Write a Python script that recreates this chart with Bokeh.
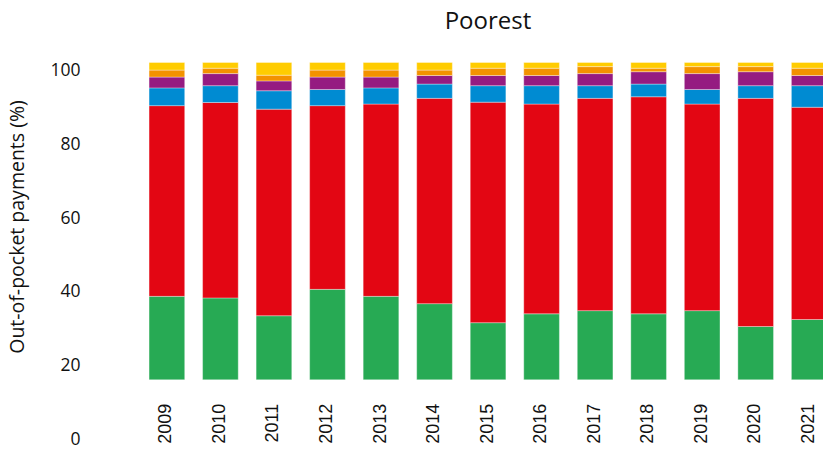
from bokeh.plotting import figure
from bokeh.models import LinearAxis, Range1d, FixedTicker, ColumnDataSource
from bokeh.core.properties import value
from bokeh.embed import file_html
from bokeh.resources import INLINE
import math

# ---- data ----
years = [2009, 2010, 2011, 2012, 2013, 2014, 2015, 2016, 2017, 2018, 2019, 2020, 2021]
year_labels = [str(y) for y in years]
seg_green  = [26.3, 25.8, 20.2, 28.5, 26.3, 24.0, 18.0, 20.8, 21.8, 20.8, 21.8, 16.8, 19.0]
seg_red    = [60.1, 61.6, 65.1, 57.9, 60.6, 64.7, 69.5, 66.1, 66.9, 68.4, 65.1, 71.9, 66.9]
seg_blue   = [5.6, 5.3, 5.8, 5.1, 5.1, 4.5, 5.2, 5.8, 4.0, 4.0, 4.6, 4.0, 6.8]
seg_purple = [3.4, 3.8, 3.1, 3.9, 3.4, 2.7, 3.2, 3.2, 3.8, 3.9, 5.0, 4.4, 3.2]
seg_orange = [2.2, 1.7, 1.8, 2.2, 2.2, 1.7, 2.3, 2.3, 2.2, 1.1, 2.2, 1.6, 2.3]
seg_yellow = [2.4, 1.8, 4.0, 2.4, 2.4, 2.4, 1.8, 1.8, 1.3, 1.8, 1.3, 1.3, 1.8]
y_ticks = [0, 20, 40, 60, 80, 100]
y_title = "Out-of-pocket payments (%)"
chart_title = "Poorest"

series = ["green", "red", "blue", "purple", "orange", "yellow"]
colors = ["#27AA54", "#E30613", "#008BD2", "#951B81", "#F39200", "#FFCC00"]

# ---- geometry (page pixels; the page template has no body margin) ----
W, H = 823, 453
FL, FT, FR, FB = 86.0, 0.0, 823.0, 453.0       # frame edges (page px)
bar0_px, bar100_px = 379.3, 62.0                # bar stack 0 and 100
lab0_px, lab100_px = 438.3, 68.7                # tick labels 0 and 100
first_c, step = 165.5, 53.6                     # first bar centre, spacing
bar_w_px = 35.7
year_top_px = 403.3
title_cx_px, title_base_px = 487.0, 18.8        # chart title centre / anchor

ppu_bar = (bar0_px - bar100_px) / 100.0
ppu_lab = (lab0_px - lab100_px) / 100.0

x_start = years[0] - (first_c - FL) / step
x_end = years[-1] + (FR - (first_c + step * (len(years) - 1))) / step
yb_start = -(FB - bar0_px) / ppu_bar
yb_end = 100 + (bar100_px - FT) / ppu_bar
yl_start = -(FB - lab0_px) / ppu_lab
yl_end = 100 + (lab100_px - FT) / ppu_lab

p = figure(width=W, height=H, output_backend="svg", toolbar_location=None, title=None,
           x_range=Range1d(x_start, x_end), y_range=Range1d(yb_start, yb_end),
           x_axis_location=None, y_axis_location=None,
           min_border_left=int(FL), min_border_right=0, min_border_bottom=0, min_border_top=0)
p.extra_y_ranges = {"lab": Range1d(yl_start, yl_end)}
p.outline_line_color = None
p.xgrid.visible = False
p.ygrid.visible = False
p.background_fill_color = "white"
p.border_fill_color = "white"

src = ColumnDataSource(dict(year=years, green=seg_green, red=seg_red, blue=seg_blue,
                            purple=seg_purple, orange=seg_orange, yellow=seg_yellow))
p.vbar_stack(series, x="year", width=bar_w_px / step, color=colors, source=src,
             line_color="white", line_alpha=0.35, line_width=1)

# year labels
lab_src = ColumnDataSource(dict(x=years, y=[-(year_top_px - bar0_px) / ppu_bar] * len(years),
                                t=year_labels))
p.text(x="x", y="y", text="t", source=lab_src, angle=math.pi / 2,
       text_align="right", text_baseline="middle", x_offset=-2,
       text_font=value("Liberation Sans"), text_font_size="18px", text_color="#111111")

# chart title
p.text(x=[years[0] + (title_cx_px - first_c) / step], y=[(bar0_px - title_base_px) / ppu_bar],
       text=[chart_title], text_align="center", text_baseline="alphabetic",
       text_font=value("Open Sans"), text_font_size="24px", text_color="#111111")

# tick-label axis with the y title
ax = LinearAxis(y_range_name="lab", ticker=FixedTicker(ticks=y_ticks))
ax.axis_line_color = None
ax.major_tick_line_color = None
ax.minor_tick_line_color = None
ax.major_tick_out = 0
ax.major_tick_in = 0
ax.major_label_standoff = 7
ax.major_label_text_font = "Open Sans"
ax.major_label_text_font_size = "17.5px"
ax.major_label_text_color = "#111111"
ax.axis_label = y_title
ax.axis_label_text_font = "Open Sans"
ax.axis_label_text_font_size = "19.5px"
ax.axis_label_text_font_style = "normal"
ax.axis_label_text_color = "#111111"
ax.axis_label_standoff = 17
p.add_layout(ax, "left")

open("out.html", "w").write(file_html(p, INLINE))
